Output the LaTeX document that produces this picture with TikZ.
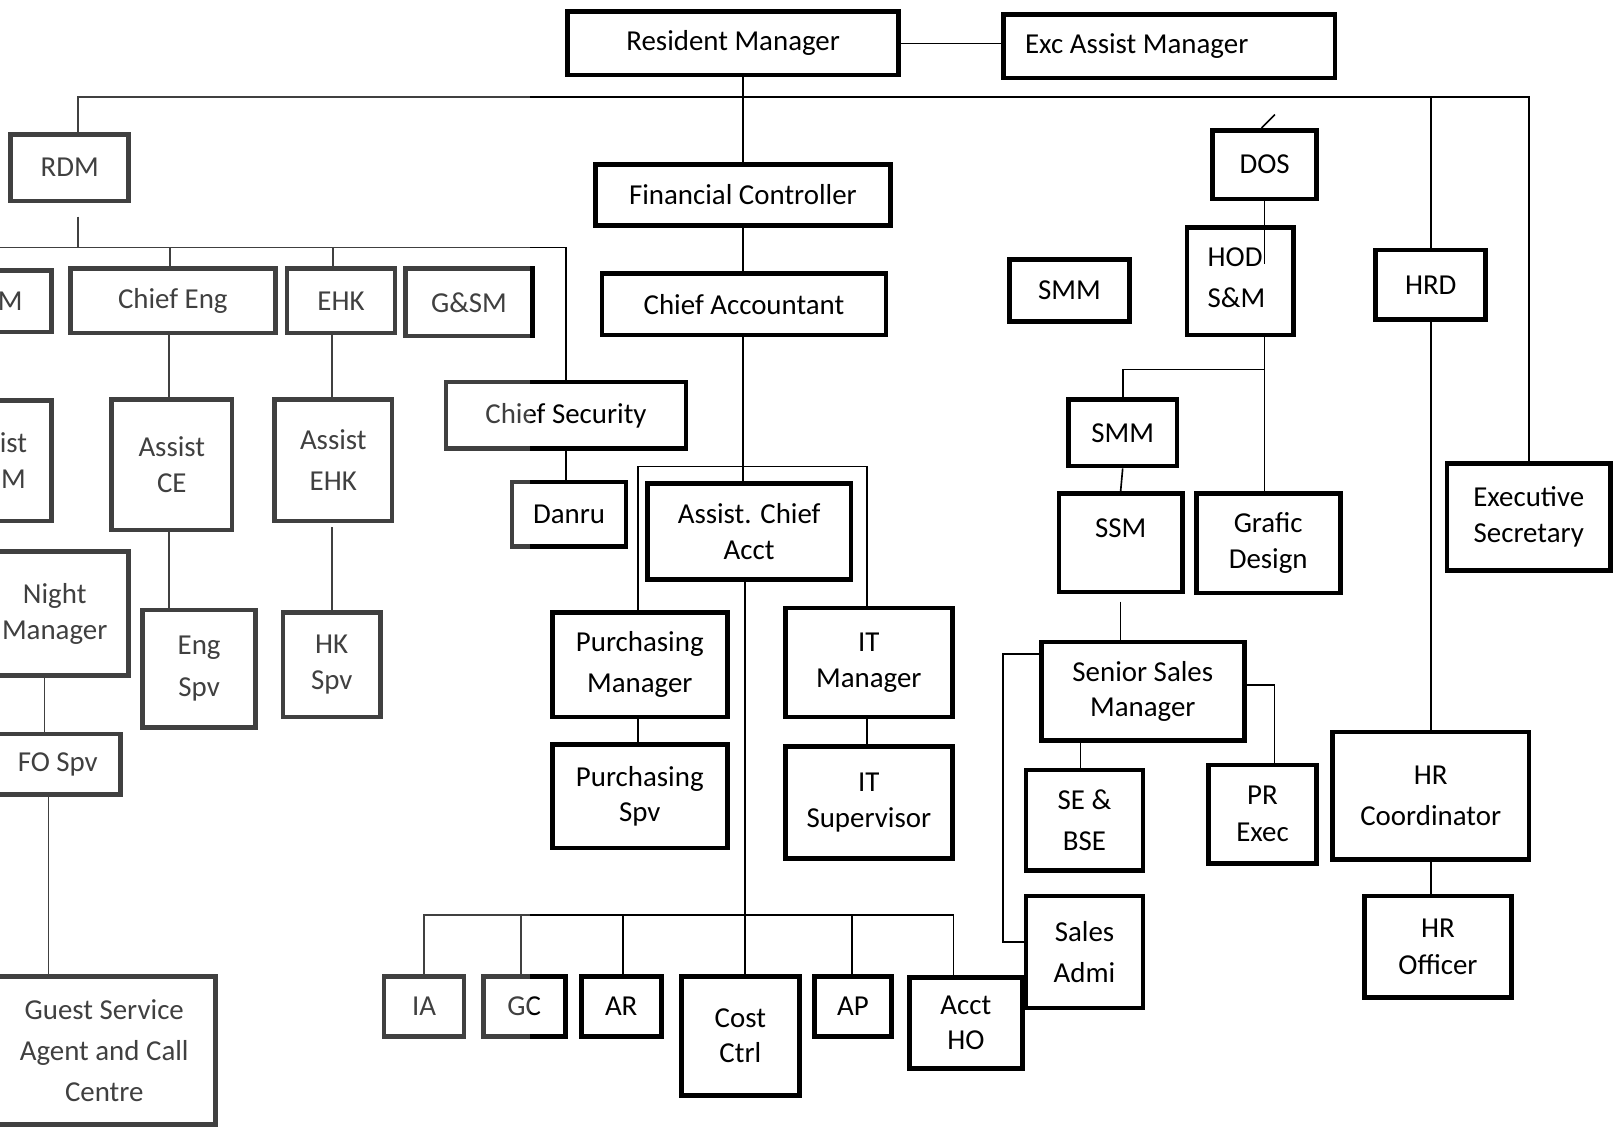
\documentclass[tikz,border=0pt]{standalone}
\usepackage{fontspec}
\setmainfont{Carlito}
\usetikzlibrary{calc}
\tikzset{
 box/.style={draw=black, line width=2.25pt, inner sep=0pt, align=center, font=\fontsize{14}{18.5}\selectfont},
 lsk/.style={font=\fontsize{14}{#1}\selectfont},
 conn/.style={draw=black, line width=0.8pt},
 lbl/.style={inner sep=0pt, font=\fontsize{14}{20}\selectfont, align=left},
}
\newcommand\orgbox[7][]{\node[box,#1,minimum width={(#5-(#3)-4.5)*0.5pt},minimum height={(#6-(#4)-4.5)*0.5pt}] (#2) at ({((#3)+(#5))/2},{((#4)+(#6))/2}) {#7};}
\begin{document}
\begin{tikzpicture}[x=0.5pt,y=-0.5pt]
\useasboundingbox (0,0) rectangle (1568,1094);
\fill[white] (0,0) rectangle (1568,1094);
\clip (0,0) rectangle (1568,1094);
% top
\orgbox{rm}{548}{9}{873}{75}{Resident Manager}
\orgbox{exc}{970}{12}{1296}{78}{}
\node[lbl,anchor=base west] (exct) at (993,52) {Exc Assist Manager};
% left
\orgbox{rdm}{8}{128}{127}{197}{RDM}
\orgbox{bm}{-32}{260}{52}{324}{M}
\orgbox{ce}{66}{258}{269}{325}{Chief Eng}
\orgbox{ehk}{276}{258}{385}{325}{EHK}
\orgbox{gsm}{391}{258}{518}{328}{G\&SM}
\orgbox[lsk=17.5pt]{aim}{-26}{386}{52}{507}{ist\\M}
\orgbox[lsk=17.5pt]{ace}{106}{385}{227}{516}{Assist\\CE}
\orgbox[lsk=20pt]{aehk}{264}{385}{382}{507}{Assist\\EHK}
\orgbox{nm}{-37}{532}{127}{657}{}
\node[box,draw=none,lsk=17.5pt] (nmt) at (53,595) {Night\\Manager};
\orgbox[lsk=20pt]{engs}{136}{589}{250}{707}{Eng\\Spv}
\orgbox[lsk=17pt]{hks}{272}{591}{371}{697}{HK\\Spv}
\orgbox{fos}{-7}{709}{119}{772}{FO Spv}
\orgbox[lsk=20pt]{gsa}{-9}{944}{211}{1092}{Guest Service\\Agent and Call\\Centre}
% middle
\orgbox{fc}{575}{157}{865}{221}{Financial Controller}
\orgbox{ca}{581}{263}{861}{327}{Chief Accountant}
\orgbox{cs}{430}{368}{667}{437}{Chief Security}
\orgbox{dan}{494}{465}{609}{532}{Danru}
\orgbox[lsk=17.5pt]{aca}{625}{466}{827}{564}{Assist. Chief\\Acct}
\orgbox[lsk=20pt]{pm}{533}{591}{707}{697}{Purchasing\\Manager}
\orgbox[lsk=17pt]{ps}{533}{719}{707}{824}{Purchasing\\Spv}
\orgbox[lsk=17.5pt]{itm}{759}{587}{925}{697}{IT\\Manager}
\orgbox[lsk=17.5pt]{its}{759}{721}{925}{834}{IT\\Supervisor}
\orgbox{ia}{370}{944}{452}{1007}{IA}
\orgbox{gc}{466}{944}{550}{1007}{GC}
\orgbox{ar}{561}{944}{643}{1007}{AR}
\orgbox[lsk=17pt]{cc}{658}{944}{777}{1064}{Cost\\Ctrl}
\orgbox{ap}{787}{944}{866}{1007}{AP}
\orgbox[lsk=17pt]{ho}{879}{945}{993}{1038}{Acct\\HO}
% right
\orgbox{smma}{976}{249}{1097}{314}{SMM}
\orgbox{dos}{1173}{124}{1278}{195}{DOS}
\orgbox{hod}{1148}{218}{1256}{327}{}
\node[lbl,anchor=west] (hodt) at (1170,269) {HOD\\S\&M};
\orgbox{hrd}{1331}{240}{1442}{312}{HRD}
\orgbox{smmb}{1033}{385}{1143}{454}{SMM}
\orgbox{ssm}{1024}{476}{1148}{576}{}
\node[lbl] (ssmt) at (1086,512) {SSM};
\orgbox[lsk=17.5pt]{gd}{1157}{476}{1301}{577}{Grafic\\Design}
\orgbox[lsk=17.5pt]{es}{1400}{447}{1563}{555}{Executive\\Secretary}
\orgbox[lsk=17pt]{ssmgr}{1007}{620}{1208}{720}{Senior Sales\\Manager}
\orgbox[lsk=20pt]{se}{992}{744}{1110}{846}{SE \&\\BSE}
\orgbox[lsk=18pt]{pr}{1169}{739}{1278}{839}{PR\\Exec}
\orgbox[lsk=20pt]{sa}{992}{866}{1110}{979}{Sales\\Admi}
\orgbox[lsk=20pt]{hrc}{1289}{707}{1484}{835}{HR\\Coordinator}
\orgbox[lsk=17.5pt]{hro}{1320}{866}{1467}{969}{HR\\Officer}
% connectors top
\coordinate (bus) at (0,94);
\draw[conn] ([xshift=4pt]rdm.north) -- ([xshift=4pt]rdm.north |- bus) -- (es.north |- bus) -- (es.north);
\draw[conn] (hrd.north |- bus) -- (hrd.north);
\draw[conn] (fc.north |- rm.south) -- (fc.north);
\draw[conn] (rm.east) -- (rm.east -| exc.west);
\draw[conn] ([xshift=-1.5pt]dos.north) -- ++(13,-13);
\draw[conn] (dos.south) -- ++(0,61);
\coordinate (hj) at (1225,358);
\draw[conn] (dos.south |- hod.south) -- (dos.south |- gd.north);
\draw[conn] (dos.south |- hj) -| (smmb.north);
\draw[conn] (smmb.south) -- (ssm.north);
\draw[conn] ([yshift=-3.5pt]ssm.south) -- (ssm.south |- ssmgr.north);
\draw[conn] ([yshift=-7pt]ssmgr.north west) -- ++(-35,0) |- ([yshift=4.75pt]sa.west);
\draw[conn] ([yshift=3pt]ssmgr.east) -| ([xshift=5.75pt]pr.north);
\draw[conn] ([xshift=-2pt]se.north |- ssmgr.south) -- ([xshift=-2pt]se.north);
\draw[conn] (hrd.south) -- (hrc.north);
\draw[conn] (hrc.south) -- (hrc.south |- hro.north);
% middle
\draw[conn] (fc.south) -- (fc.south |- ca.north);
\draw[conn] ([xshift=-0.5pt]ca.south) -- ([xshift=-0.5pt]ca.south |- aca.north);
\coordinate (brk) at (0,452);
\draw[conn] ([xshift=-1pt]pm.north) |- ([xshift=-1pt]itm.north |- brk) -- ([xshift=-1pt]itm.north);
\draw[conn] ([xshift=-1pt]pm.south) -- ([xshift=-1pt]ps.north);
\draw[conn] ([xshift=-1pt]itm.south) -- ([xshift=-1pt]its.north);
\coordinate (acx) at (722,0);
\coordinate (bb) at (0,887);
\draw[conn] (aca.south -| acx) -- (cc.north -| acx);
\draw[conn] (ia.north) -- (ia.north |- bb) -- ([xshift=-6pt]ho.north |- bb) -- ([xshift=-6pt]ho.north);
\foreach \n/\s in {gc/-1.5pt, ar/1pt, ap/-0.5pt}
  \draw[conn] ([xshift=\s]\n.north) -- ([xshift=\s]\n.north |- bb);
\draw[conn] (cs.south) -- (cs.south |- dan.north);
% left
\coordinate (b2) at (0,240);
\draw[conn] ([xshift=4pt,yshift=-6.5pt]rdm.south) -- ([xshift=4pt]rdm.south |- b2);
\draw[conn] (b2) -- (cs.north |- b2) -- (cs.north);
\draw[conn] ([xshift=-1.5pt]ce.north |- b2) -- ([xshift=-1.5pt]ce.north);
\draw[conn] ([xshift=-4pt]ehk.north |- b2) -- ([xshift=-4pt]ehk.north);
\coordinate (cex) at (164,0);
\draw[conn] (ce.south -| cex) -- (ace.north -| cex);
\draw[conn] (ace.south -| cex) -- (engs.north -| cex);
\coordinate (ehx) at (322,0);
\draw[conn] (ehk.south -| ehx) -- (aehk.north -| ehx);
\draw[conn] ([yshift=-2pt]aehk.south -| ehx) -- (hks.north -| ehx);
\coordinate (nmx) at (43,0);
\coordinate (fox) at (47,0);
\draw[conn] (nm.south -| nmx) -- (fos.north -| nmx);
\draw[conn] (fos.south -| fox) -- (gsa.north -| fox);
% faded left part
\fill[white,opacity=0.25] (0,0) rectangle (514,1094);
\end{tikzpicture}
\end{document}
